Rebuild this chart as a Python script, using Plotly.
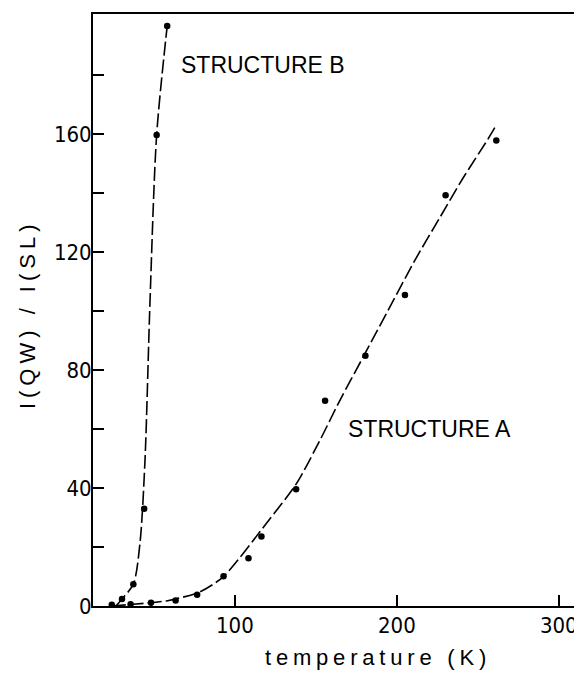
import plotly.graph_objects as go

# Measured points
temp_a = [24, 35.6, 48.2, 63.4, 76.7, 93.0, 108.4, 116.4, 137.8, 155.7, 180.6, 205.0, 230.1, 261.4]
ratio_a = [0.4, 0.6, 1.1, 1.9, 3.8, 10.1, 16.2, 23.6, 39.6, 69.6, 84.9, 105.5, 139.3, 157.9]
temp_b = [30.3, 37.3, 44.0, 51.7, 58.2]
ratio_b = [2.4, 7.4, 33.0, 159.8, 196.7]

# Fitted (dashed) curves
fit_a_x = [24, 37.3, 58.5, 78.4, 92.8, 119.4, 138, 152.4, 164.7, 181.2, 197.6, 212, 226.4, 240.8, 256.2, 261.5]
fit_a_y = [0.0, 0.6, 1.8, 4.8, 9.9, 28, 41.5, 56.1, 69.6, 86.5, 103.4, 118.1, 131.6, 145.1, 158.3, 163.2]
fit_b_x = [26.6, 30.3, 37.3, 41.4, 44.5, 47.6, 51.7, 58.2]
fit_b_y = [0.0, 2.4, 7.4, 21.3, 49.4, 103.4, 159.8, 196.7]

y_tick_vals = [0, 20, 40, 60, 80, 100, 120, 140, 160, 180]
y_tick_text = ["0", "", "40", "", "80", "", "120", "", "160", ""]
x_tick_vals = [100, 200, 300]
x_tick_text = ["100", "200", "300"]

FONT = "Liberation Sans, Arial, sans-serif"
NARROW = "DejaVu Sans Condensed, Liberation Sans Narrow, Liberation Sans, sans-serif"

# page body has an 8px margin; plot area in page pixels: x 93..576, y 12..606
PL, PR, PT, PB = 93, 576, 12, 606
OFF = 8
W, H = 582 - OFF, 677 - OFF
PW, PH = PR - PL, PB - PT


def px(xp):
    return (xp - PL) / PW


def py(yp):
    return (PB - yp) / PH


fig = go.Figure()
dash = "14px,4px"
fig.add_trace(go.Scatter(x=fit_a_x, y=fit_a_y, mode="lines",
                         line=dict(color="black", width=1.6, dash=dash, shape="spline", smoothing=0.7),
                         hoverinfo="skip"))
fig.add_trace(go.Scatter(x=fit_b_x, y=fit_b_y, mode="lines",
                         line=dict(color="black", width=1.6, dash=dash, shape="spline", smoothing=0.8),
                         hoverinfo="skip"))
fig.add_trace(go.Scatter(x=temp_a, y=ratio_a, mode="markers", marker=dict(color="black", size=6.5)))
fig.add_trace(go.Scatter(x=temp_b, y=ratio_b, mode="markers", marker=dict(color="black", size=6.5)))

fig.update_layout(
    width=W, height=H,
    margin=dict(l=PL - OFF, r=W - (PR - OFF), t=PT - OFF, b=H - (PB - OFF), pad=0),
    paper_bgcolor="white", plot_bgcolor="white",
    showlegend=False,
    font=dict(family=FONT, color="black"),
    xaxis=dict(range=[12.4, 310], tickvals=x_tick_vals, ticktext=x_tick_text,
               ticks="inside", ticklen=11, tickwidth=1.5, tickcolor="black",
               showline=True, linecolor="black", linewidth=1.8, mirror=True,
               showgrid=False, zeroline=False, ticklabelstandoff=-1,
               tickfont=dict(family=NARROW, size=22)),
    yaxis=dict(range=[0, 200.8], tickvals=y_tick_vals, ticktext=y_tick_text,
               ticks="inside", ticklen=11, tickwidth=1.5, tickcolor="black",
               showline=True, linecolor="black", linewidth=1.8, mirror=True,
               showgrid=False, zeroline=False, ticklabelstandoff=-5,
               tickfont=dict(family=NARROW, size=22)),
    annotations=[
        dict(text="STRUCTURE B", x=117.2, y=183.6, xref="x", yref="y", showarrow=False,
             font=dict(family=FONT, size=23)),
        dict(text="STRUCTURE A", x=220.3, y=60.2, xref="x", yref="y", showarrow=False,
             font=dict(family=FONT, size=23)),
        dict(text='<span style="letter-spacing:4.8px">temperature (K)</span>',
             x=px(379), y=py(658), xref="paper", yref="paper", showarrow=False,
             xanchor="center", yanchor="middle", font=dict(family=FONT, size=22)),
        dict(text='<span style="letter-spacing:5px">I(QW) / I(SL)</span>',
             x=px(28), y=py(313), xref="paper", yref="paper", showarrow=False,
             xanchor="center", yanchor="middle", textangle=-90, font=dict(family=FONT, size=22)),
    ],
)

fig.write_html("out.html")
